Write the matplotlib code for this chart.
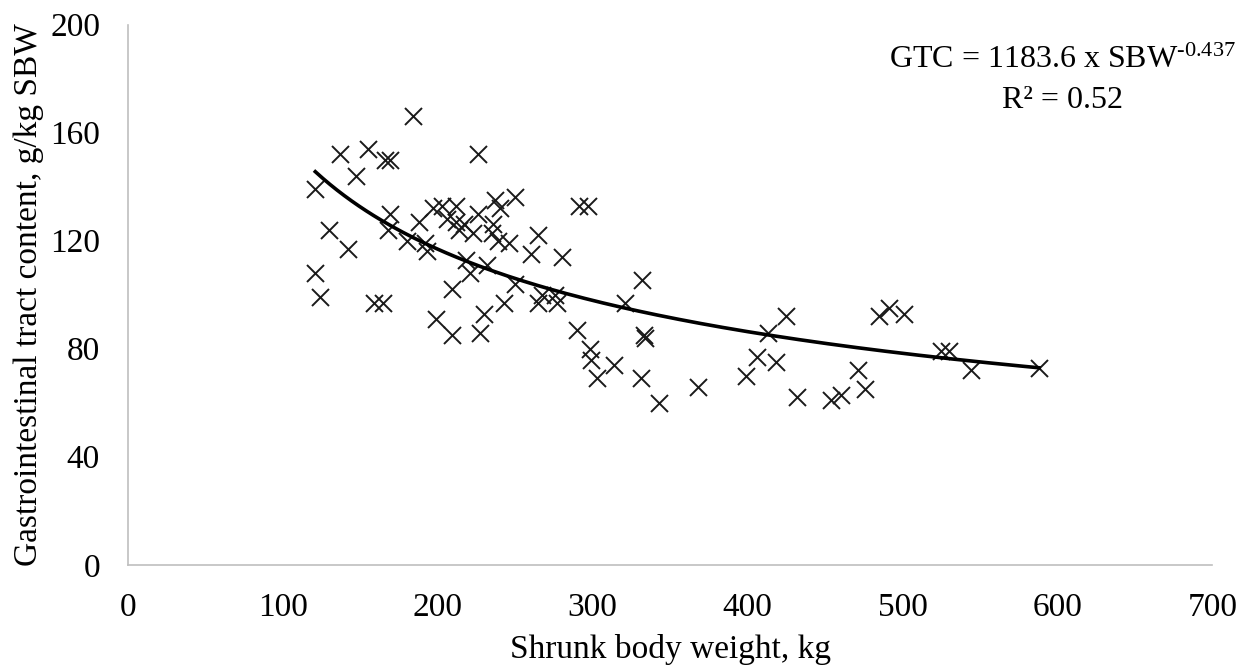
import matplotlib.pyplot as plt
import numpy as np

plt.rcParams['font.family'] = 'Liberation Serif'
plt.rcParams['mathtext.fontset'] = 'custom'
plt.rcParams['mathtext.rm'] = 'Liberation Serif'
plt.rcParams['mathtext.it'] = 'Liberation Serif:italic'
plt.rcParams['mathtext.bf'] = 'Liberation Serif:bold'
plt.rcParams['mathtext.default'] = 'regular'

# Shrunk body weight (kg) and gastrointestinal tract content (g/kg SBW)
sbw = [121, 121, 124, 130, 137, 142, 147, 155, 159, 165, 166, 169, 168, 169,
       184, 180, 188, 192, 193, 197, 199, 203, 206, 209, 209, 212, 212, 214,
       217, 218, 221, 223, 226, 226, 227, 230, 232, 235, 236, 237, 239, 240,
       243, 246, 250, 250, 260, 265, 265, 267, 276, 277, 280, 290, 291, 297,
       298, 299, 303, 314, 321, 331, 332, 333, 334, 343, 368, 399, 406, 413,
       418, 425, 432, 454, 460, 471, 476, 485, 491, 501, 525, 530, 544, 588]
gtc = [139, 108, 99, 124, 152, 117, 144, 154, 97, 97, 150, 150, 124, 130,
       166, 120, 127, 119, 116, 132, 91, 133, 128, 102, 85, 133, 127, 124,
       126, 113, 108, 123, 152, 130, 86, 93, 111, 123, 126, 135, 120, 132,
       97, 119, 136, 104, 115, 122, 97, 100, 100, 97, 114, 87, 133, 133,
       80, 76, 69, 74, 97, 69, 105.5, 85, 84, 60, 66, 70, 77, 86,
       75, 92, 62, 61, 63, 72, 65, 92, 95, 93, 79, 79, 72, 73]

coef = 1183.6
power = -0.437

fig = plt.figure(figsize=(12.41, 6.66), dpi=100)
ax = fig.add_axes([0.103, 0.152, 0.874, 0.811])

ax.scatter(sbw, gtc, marker='x', color='#1a1a1a', s=150, linewidths=1.4)

# power trend line
xf = np.linspace(min(sbw), max(sbw), 200)
ax.plot(xf, coef * xf ** power, color='black', linewidth=2.6)

ax.set_xlim(0, 700)
ax.set_ylim(0, 200)
ax.set_xticks(np.arange(0, 701, 100))
ax.set_yticks(np.arange(0, 201, 40))
ax.tick_params(length=0, labelsize=24)
ax.tick_params(axis='x', pad=20)
ax.tick_params(axis='y', pad=20)

for side in ['top', 'right']:
    ax.spines[side].set_visible(False)
for side in ['left', 'bottom']:
    ax.spines[side].set_color('#bfbfbf')
    ax.spines[side].set_linewidth(1.2)

ax.set_xlabel('Shrunk body weight, kg', fontsize=24, labelpad=8)
ax.set_ylabel('Gastrointestinal tract content, g/kg SBW', fontsize=24, labelpad=4)

fig.text(1236 / 1241, 1 - 60 / 666, r'GTC = 1183.6 x SBW$^{\text{-0.437}}$',
         fontsize=23, ha='right', va='center')
fig.text(1063 / 1241, 1 - 101 / 666, 'R² = 0.52', fontsize=23, ha='center', va='center')

fig.savefig('out.png', dpi=100)
